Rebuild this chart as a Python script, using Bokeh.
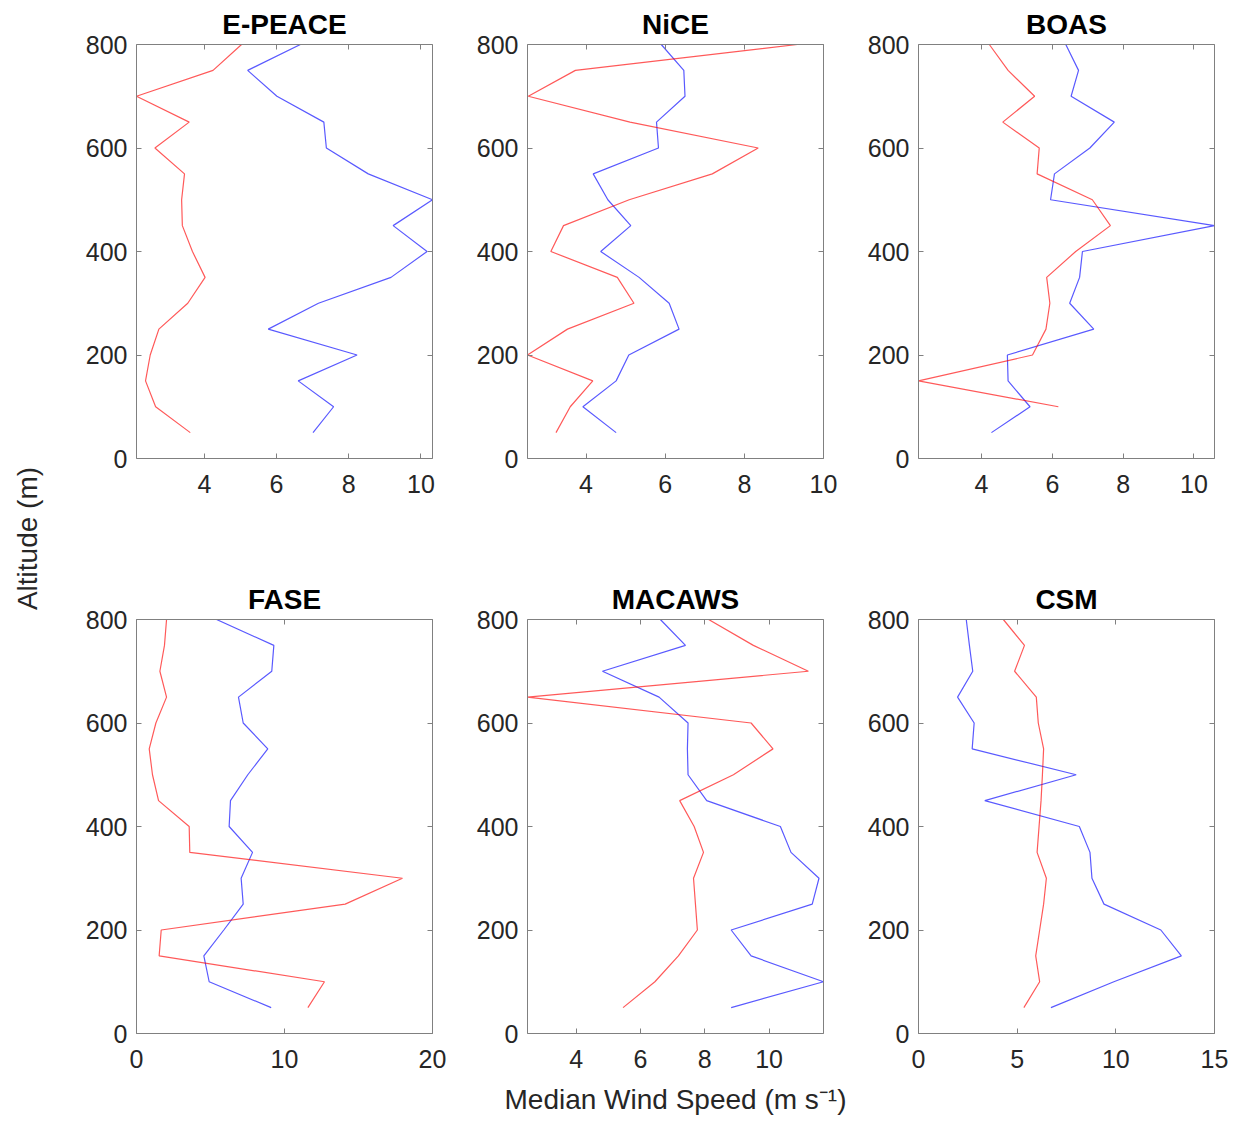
import numpy as np
from bokeh.plotting import figure
from bokeh.models import LinearAxis, FixedTicker, Range1d
from bokeh.layouts import row, column
from bokeh.embed import file_html
from bokeh.resources import INLINE
from bokeh.core.properties import value

# ---------------- data ----------------
altitude = [50, 100, 150, 200, 250, 300, 350, 400, 450, 500, 550, 600, 650, 700, 750, 800]

titles = ["E-PEACE", "NiCE", "BOAS", "FASE", "MACAWS", "CSM"]

epeace_red = [3.61, 2.65, 2.37, 2.50, 2.74, 3.54, 4.02, 3.67, 3.39, 3.37, 3.45, 2.63, 3.58, 2.12, 4.24, 5.03]
epeace_blue = [7.01, 7.58, 6.60, 8.23, 5.77, 7.16, 9.17, 10.17, 9.23, 10.32, 8.54, 7.38, 7.31, 6.01, 5.20, 6.66]

nice_red = [3.24, 3.60, 4.17, 2.52, 3.53, 5.21, 4.79, 3.11, 3.43, 5.09, 7.19, 8.35, 5.11, 2.54, 3.73, 9.34]
nice_blue = [4.76, 3.92, 4.76, 5.08, 6.35, 6.10, 5.34, 4.37, 5.13, 4.55, 4.18, 5.83, 5.78, 6.50, 6.47, 5.90]

boas_red = [float("nan"), 6.17, 2.22, 5.44, 5.82, 5.93, 5.84, 6.66, 7.64, 7.13, 5.57, 5.63, 4.60, 5.50, 4.75, 4.22]
boas_blue = [4.28, 5.37, 4.75, 4.73, 7.17, 6.49, 6.77, 6.85, 10.58, 5.95, 6.06, 7.06, 7.75, 6.53, 6.74, 6.38]

fase_red = [11.58, 12.70, 1.53, 1.67, 14.10, 17.97, 3.60, 3.56, 1.49, 1.08, 0.86, 1.31, 2.03, 1.58, 1.89, 2.03]
fase_blue = [9.10, 4.91, 4.55, 5.90, 7.21, 7.07, 7.84, 6.26, 6.35, 7.52, 8.87, 7.21, 6.89, 9.14, 9.28, 5.41]

macaws_red = [5.46, 6.45, 7.18, 7.77, 7.71, 7.65, 7.96, 7.67, 7.22, 8.89, 10.12, 9.44, 2.49, 11.22, 9.51, 8.12]
macaws_blue = [8.82, 11.69, 9.44, 8.82, 11.34, 11.55, 10.68, 10.35, 8.06, 7.48, 7.46, 7.48, 6.58, 4.82, 7.40, 6.62]

csm_red = [5.34, 6.14, 5.94, 6.14, 6.34, 6.48, 6.01, 6.11, 6.21, 6.28, 6.34, 6.07, 5.97, 4.87, 5.37, 4.30]
csm_blue = [6.71, 9.90, 13.32, 12.28, 9.40, 8.79, 8.69, 8.15, 3.36, 7.99, 2.72, 2.82, 1.98, 2.75, 2.58, 2.42]

# x-axis limits: None = tight to data
xlims = [(None, None), (None, 10), (None, None), (0, 20), (None, None), (0, 15)]
xticks = [[4, 6, 8, 10], [4, 6, 8, 10], [4, 6, 8, 10], [0, 10, 20], [4, 6, 8, 10], [0, 5, 10, 15]]
yticks = [0, 200, 400, 600, 800]

reds = [epeace_red, nice_red, boas_red, fase_red, macaws_red, csm_red]
blues = [epeace_blue, nice_blue, boas_blue, fase_blue, macaws_blue, csm_blue]

# ---------------- style ----------------
FONT = "Liberation Sans"
TXT = "#262626"
BOX = "#808080"
RED = "#ff0000"
BLUE = "#0000ff"


def style_axis(ax, ticks, show_labels=True):
    ax.ticker = FixedTicker(ticks=ticks)
    ax.minor_tick_line_color = None
    ax.major_tick_in = 5
    ax.major_tick_out = 0
    ax.major_tick_line_color = BOX
    ax.axis_line_color = BOX
    ax.axis_line_width = 1
    ax.major_label_text_font = FONT
    ax.major_label_text_color = TXT
    ax.major_label_text_font_size = "25px"
    if not show_labels:
        ax.major_label_overrides = {t: "" for t in ticks}
        ax.major_label_text_color = None
        ax.major_label_text_font_size = "1px"
        ax.major_label_standoff = 0


def make_panel(i, left_b, right_b, bottom_b, xlabel=None):
    red = reds[i]
    blue = blues[i]
    allv = np.array(red + blue, dtype=float)
    lo, hi = xlims[i]
    lo = float(np.nanmin(allv)) if lo is None else lo
    hi = float(np.nanmax(allv)) if hi is None else hi
    p = figure(frame_width=296, frame_height=414,
               x_range=Range1d(lo, hi), y_range=Range1d(0, 800),
               output_backend="svg", toolbar_location=None,
               min_border_left=left_b, min_border_right=right_b,
               min_border_top=44, min_border_bottom=bottom_b)
    p.grid.visible = False
    p.outline_line_color = None
    p.background_fill_color = "white"
    p.border_fill_color = "white"

    bottom_ax = p.xaxis[0]
    left_ax = p.yaxis[0]
    style_axis(bottom_ax, xticks[i])
    bottom_ax.major_label_standoff = 16
    style_axis(left_ax, yticks)
    left_ax.major_label_standoff = 9

    top = LinearAxis()
    style_axis(top, xticks[i], show_labels=False)
    top.axis_label = titles[i]
    top.axis_label_text_font = FONT
    top.axis_label_text_font_style = "bold"
    top.axis_label_text_font_size = "28px"
    top.axis_label_text_color = "#000000"
    top.axis_label_standoff = 5
    p.add_layout(top, "above")

    right = LinearAxis()
    style_axis(right, yticks, show_labels=False)
    p.add_layout(right, "right")

    if xlabel:
        bottom_ax.axis_label = xlabel
        bottom_ax.axis_label_text_font = FONT
        bottom_ax.axis_label_text_font_style = "normal"
        bottom_ax.axis_label_text_font_size = "28px"
        bottom_ax.axis_label_text_color = TXT
        bottom_ax.axis_label_standoff = 13

    p.line(blue, altitude, line_color=BLUE, line_width=1.2, line_alpha=0.65)
    p.line(red, altitude, line_color=RED, line_width=1.2, line_alpha=0.65)
    return p


# widths: spacer 76 | 60 + 296 + 35 | 60 + 296 + 35 | 60 + 296 + 20
top_row = row(make_panel(0, 60, 35, 117), make_panel(1, 60, 35, 117), make_panel(2, 60, 20, 117))
bot_row = row(make_panel(3, 60, 35, 88),
              make_panel(4, 60, 35, 88, xlabel="Median Wind Speed (m s\u207b\u00b9)"),
              make_panel(5, 60, 20, 88))
grid = column(top_row, bot_row)

total_h = 575 + 44 + 414 + 88
left = figure(width=76, height=total_h, x_range=Range1d(0, 76), y_range=Range1d(total_h, 0),
              output_backend="svg", toolbar_location=None, min_border=0)
left.axis.visible = False
left.grid.visible = False
left.outline_line_color = None
left.text(x=[27], y=[538], text=["Altitude (m)"], angle=np.pi / 2,
          text_align="center", text_baseline="middle", text_font=value(FONT),
          text_font_size="28px", text_color=TXT)

layout = row(left, grid)

open("out.html", "w").write(file_html(layout, INLINE))
